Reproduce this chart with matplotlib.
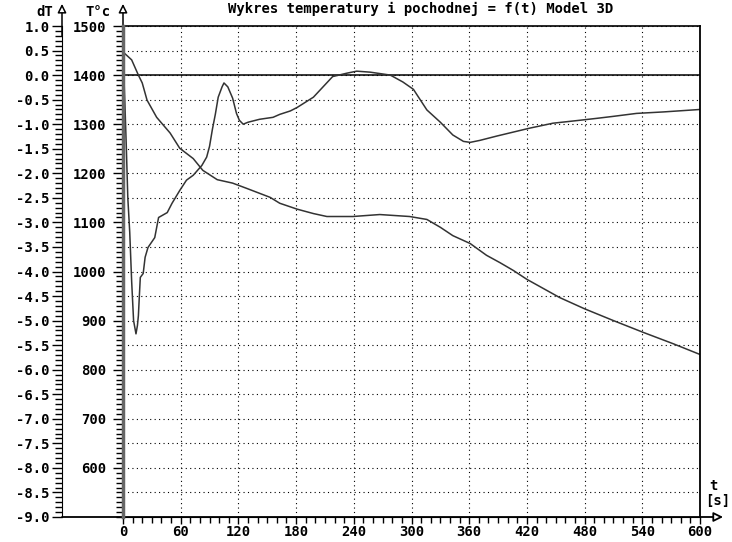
import matplotlib.pyplot as plt
from matplotlib.ticker import MultipleLocator, FormatStrFormatter

plt.rcParams["axes.unicode_minus"] = False
FONT = dict(family="DejaVu Sans Mono", weight="bold", size=10)

# temperature curve T(t)
t_temp = [0, 4, 9, 16, 20, 25, 35, 49, 59, 73, 83, 98, 114, 129, 153, 163,
          181, 198, 212, 239, 267, 298, 316, 330, 343, 361, 378, 392, 406,
          420, 454, 480, 510, 541, 572, 600]
temp = [1447, 1440, 1431, 1400, 1384, 1349, 1314, 1282, 1251, 1230, 1206,
        1187, 1180, 1169, 1151, 1139, 1127, 1118, 1112, 1112, 1116, 1112,
        1106, 1090, 1073, 1057, 1033, 1018, 1002, 984, 947, 924, 900, 876,
        853, 831]

# derivative curve dT(t)
t_deriv = [0, 2, 3.5, 5, 7, 9, 11, 13.5, 15, 16, 17, 18, 21, 23, 26, 33, 37,
           46, 51, 59, 66, 73, 82, 87, 90, 93, 96, 99, 103, 105, 109, 114,
           118, 121, 125, 130, 142, 156, 163, 174, 181, 198, 208, 218, 233,
           243, 257, 278, 291, 302, 316, 330, 343, 354, 361, 371, 389, 406,
           423, 447, 475, 493, 510, 534, 562, 600]
deriv = [0.45, -0.6, -1.5, -2.5, -3.2, -4.2, -5.0, -5.27, -5.1, -4.9, -4.5,
         -4.12, -4.04, -3.71, -3.51, -3.31, -2.9, -2.8, -2.61, -2.35, -2.14,
         -2.04, -1.84, -1.67, -1.45, -1.1, -0.8, -0.45, -0.24, -0.16, -0.24,
         -0.47, -0.78, -0.92, -1.0, -0.96, -0.9, -0.86, -0.8, -0.73, -0.66,
         -0.45, -0.24, -0.03, 0.04, 0.08, 0.06, 0.0, -0.14, -0.29, -0.71,
         -0.96, -1.22, -1.35, -1.37, -1.33, -1.24, -1.16, -1.08, -0.98,
         -0.92, -0.88, -0.84, -0.78, -0.75, -0.7]

W, H = 732, 542
fig = plt.figure(figsize=(W / 100, H / 100), dpi=100)
ax = fig.add_axes([123 / W, 25 / H, 577 / W, 491 / H])

# dT axis (outer, left)
ax.set_xlim(0, 600)
ax.set_ylim(-9, 1)
ax.spines["left"].set_position(("outward", 61 * 0.72))
ax.spines["right"].set_visible(False)
ax.spines["top"].set_linewidth(1.2)
ax.yaxis.set_major_locator(MultipleLocator(0.5))
ax.yaxis.set_minor_locator(MultipleLocator(0.1))
ax.yaxis.set_major_formatter(FormatStrFormatter("%.1f"))
ax.xaxis.set_major_locator(MultipleLocator(60))
ax.xaxis.set_minor_locator(MultipleLocator(10))
ax.tick_params(axis="y", which="major", length=7, width=1, pad=2)
ax.tick_params(axis="y", which="minor", length=5, width=1)
ax.tick_params(axis="x", which="major", length=5, width=1, pad=1)
ax.tick_params(axis="x", which="minor", length=4, width=1)
for lab in ax.get_xticklabels() + ax.get_yticklabels():
    lab.set_fontproperties(FONT)
ax.grid(True, which="major", color="black", linestyle=(0, (1, 3)), linewidth=0.8)
ax.axhline(0, color="black", linewidth=1.1)
ax.plot(t_deriv, deriv, color="#333333", linewidth=1.1)

# temperature axis (at t = 0)
axT = ax.twinx()
axT.set_ylim(500, 1500)
axT.yaxis.tick_left()
axT.spines["left"].set_visible(True)
axT.spines["left"].set_color("#666666")
axT.spines["left"].set_linewidth(2.5)
axT.spines["right"].set_linewidth(1.3)
axT.spines["top"].set_visible(False)
axT.spines["bottom"].set_visible(False)
axT.yaxis.set_minor_locator(MultipleLocator(10))
axT.set_yticks(range(600, 1501, 100))
axT.tick_params(which="major", length=7, width=1, pad=5)
axT.tick_params(which="minor", length=5, width=1)
for lab in axT.get_yticklabels():
    lab.set_fontproperties(FONT)
axT.plot(t_temp, temp, color="#333333", linewidth=1.1)

# axis arrows
x_dT = -61 / 577
ax.annotate("", xy=(1.04, 0), xytext=(x_dT, 0), xycoords="axes fraction",
            arrowprops=dict(arrowstyle="-|>", fc="white", ec="black", lw=1.3,
                            mutation_scale=14, shrinkA=0, shrinkB=0))
for xa in (x_dT, 0):
    ax.annotate("", xy=(xa, 1.045), xytext=(xa, 0.98), xycoords="axes fraction",
                arrowprops=dict(arrowstyle="-|>", fc="white", ec="black", lw=1.1,
                                mutation_scale=13, shrinkA=0, shrinkB=0))

fig.text(45 / W, 1 - 12 / H, "dT", ha="center", va="center", **FONT)
fig.text(98 / W, 1 - 12 / H, "T°c", ha="center", va="center", **FONT)
fig.text(421 / W, 1 - 9 / H, "Wykres temperatury i pochodnej = f(t) Model 3D",
         ha="center", va="center", **FONT)
fig.text(713 / W, 1 - 486 / H, "t", ha="center", va="center", **FONT)
fig.text(718 / W, 1 - 501 / H, "[s]", ha="center", va="center", **FONT)

fig.savefig("out.png", dpi=100)
